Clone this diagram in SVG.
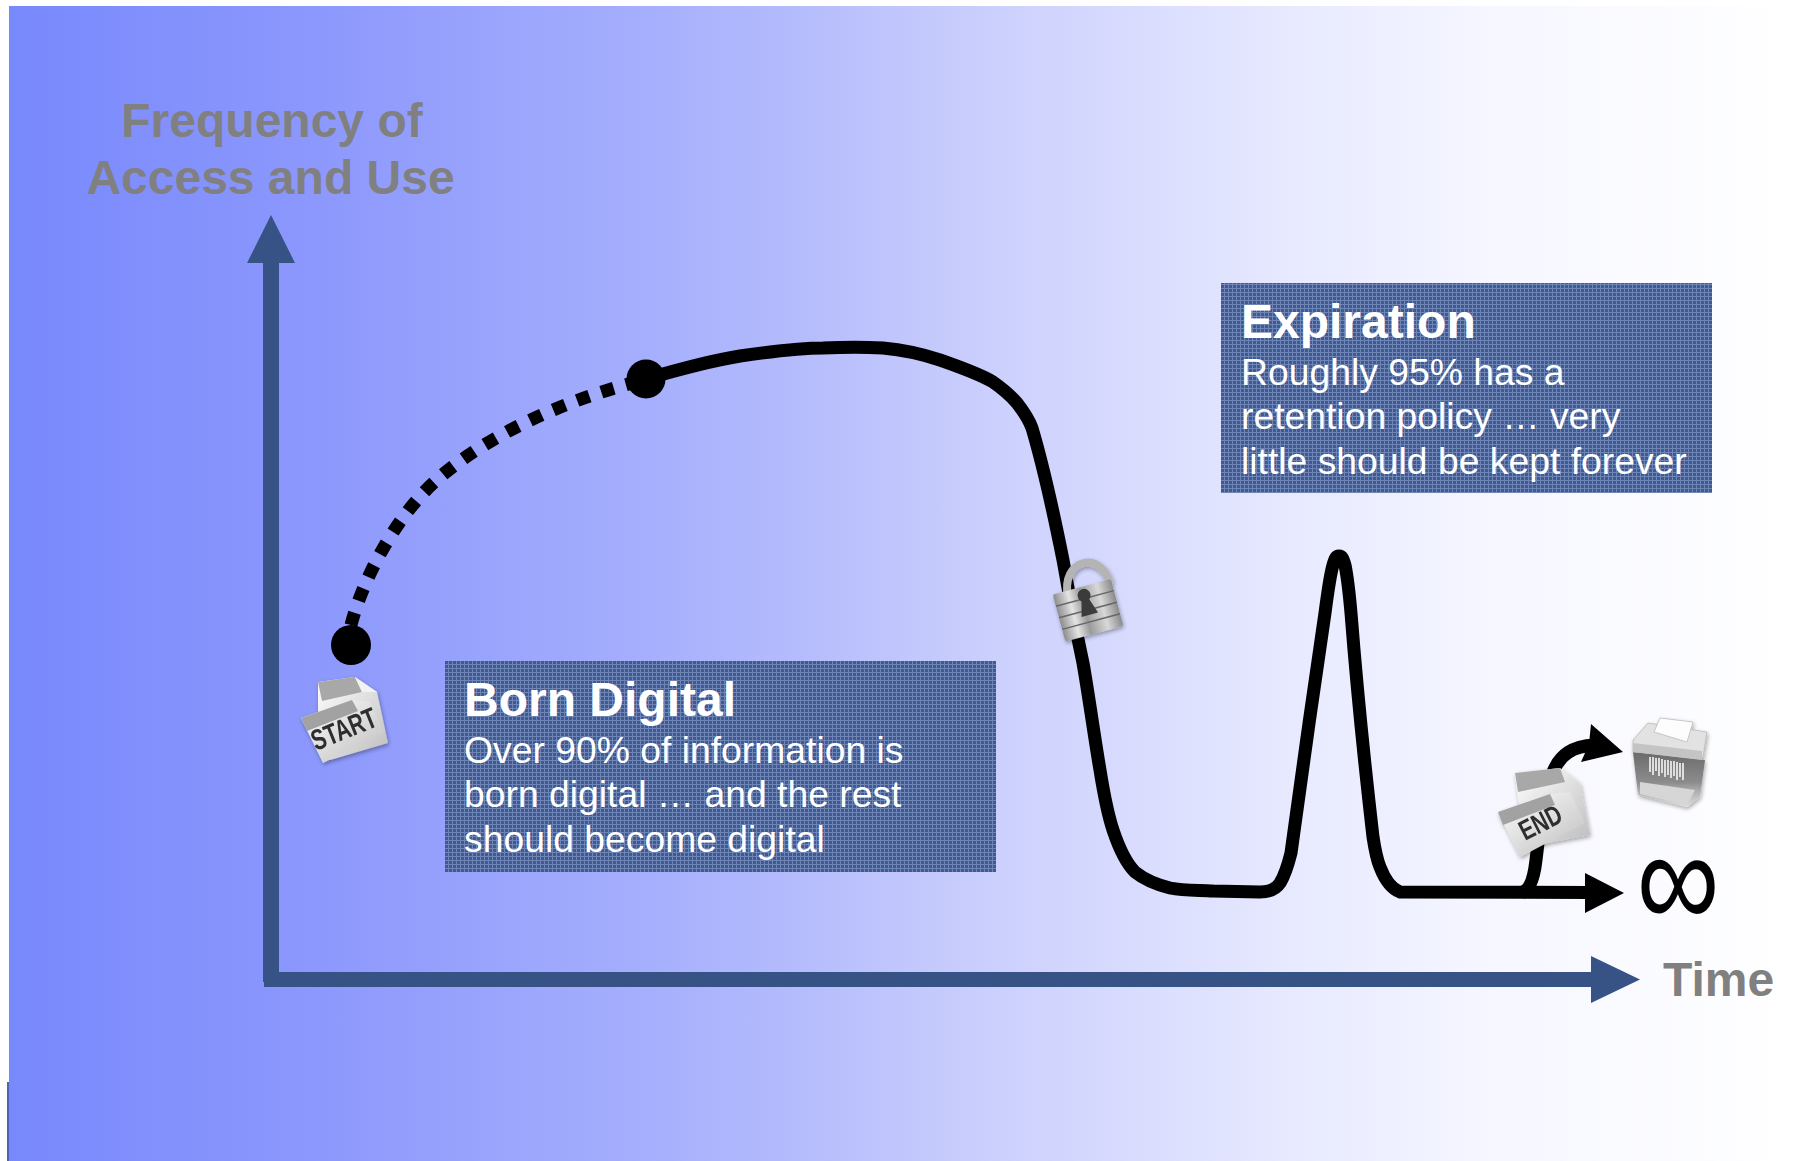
<svg xmlns="http://www.w3.org/2000/svg" width="1813" height="1161" viewBox="0 0 1813 1161">
<style>
text{font-family:"Liberation Sans",Arial,sans-serif}
.axis{fill:#808080;font-weight:700;font-size:48px}
.h{fill:#fff;font-weight:700;font-size:48px}
.b{fill:#fff;font-size:37.300px}
.box{fill:url(#mesh)}
.curve{fill:none;stroke:#000;stroke-width:13}
.ax{fill:#375284}
.tag{fill:#2e2e2e;font-weight:700}
</style>
<defs>
<linearGradient id="bg" x1="9" y1="0" x2="1790" y2="0" gradientUnits="userSpaceOnUse"><stop offset="0" stop-color="#7889fc"/><stop offset=".164" stop-color="#8b97fc"/><stop offset=".36" stop-color="#a6affc"/><stop offset=".444" stop-color="#b5bcfc"/><stop offset=".556" stop-color="#ccd0fd"/><stop offset=".652" stop-color="#dcdffe"/><stop offset=".725" stop-color="#e8eaff"/><stop offset=".837" stop-color="#f6f7ff"/><stop offset="1" stop-color="#fff"/></linearGradient>
<pattern id="mesh" width="4" height="4" patternUnits="userSpaceOnUse"><rect width="4" height="4" fill="#3f5a90"/><rect width="4" height="1" fill="#6f85b5"/><rect width="1" height="4" fill="#6f85b5"/></pattern>
<linearGradient id="silver" x1="0" y1="0" x2="1" y2="0"><stop offset="0" stop-color="#8d8d8d"/><stop offset=".25" stop-color="#e4e4e4"/><stop offset=".45" stop-color="#9a9a9a"/><stop offset=".75" stop-color="#d8d8d8"/><stop offset="1" stop-color="#8a8a8a"/></linearGradient>
<linearGradient id="paper" x1="0" y1="0" x2="1" y2="1"><stop offset="0" stop-color="#fff"/><stop offset="1" stop-color="#bdbdbd"/></linearGradient>
<linearGradient id="bin" x1="0" y1="0" x2="0" y2="1"><stop offset="0" stop-color="#6a6a6a"/><stop offset=".55" stop-color="#8c8c8c"/><stop offset=".75" stop-color="#b5b5b5"/><stop offset="1" stop-color="#dedede"/></linearGradient>
<filter id="soft" x="-20%" y="-20%" width="140%" height="140%"><feGaussianBlur in="SourceGraphic" stdDeviation=".7" result="s"/><feGaussianBlur in="SourceAlpha" stdDeviation="2"/><feOffset dx="1" dy="2"/><feComponentTransfer><feFuncA type="linear" slope=".35"/></feComponentTransfer><feMerge><feMergeNode/><feMergeNode in="s"/></feMerge></filter>
</defs>
<rect width="1813" height="1161" fill="#fff"/>
<rect x="9" y="6" width="1804" height="1155" fill="url(#bg)"/>
<rect x="7" y="1082" width="2" height="79" fill="#4a66b0"/>
<g id="connectors">
<path class="ax" d="M263 982V263H247L271 215L295 263H279V972H1591V956L1640 979.5L1591 1003V987H264V982Z"/>
<path class="curve" stroke-dasharray="13 12.6" d="M351 625C362 582 395 515 440 477C490 434 565 400 640 381"/>
<path class="curve" d="M646 379C680 369 710 361 740 356C775 351 800 348 823 348C845 347 865 347 883 348C905 350 925 355 940 360C960 367 980 374 993 382C1003 389 1011 396 1017 403C1024 412 1029 420 1032 428C1040 455 1052 505 1063 560C1070 600 1076 630 1083 663C1089 697 1094 735 1100 770C1104 795 1108 815 1113 830C1119 848 1126 863 1135 872C1145 880 1158 885 1170 888C1185 891 1200 890 1213 891L1260 892C1270 892 1276 889 1280 883C1285 875 1288 865 1291 853C1298 800 1315 680 1325 613C1328 590 1330 575 1333 565C1335 558 1336 556 1339 556C1342 556 1343 558 1345 565C1347 575 1349 590 1351 613C1357 690 1367 785 1373 837C1375 850 1377 860 1380 867C1385 880 1392 889 1400 892L1590 892.5"/>
<path class="curve" d="M1522 892.5C1530 890 1534 878 1536 860C1540 825 1546 785 1553 772C1560 755 1572 746 1595 745"/>
<path d="M1585 873L1624 893L1585 913Z"/>
<path d="M1591 724L1623 752L1581 762L1589 744Z"/>
</g>
<g id="node-y-label"><text class="axis" x="272" y="137" text-anchor="middle">Frequency of</text><text class="axis" x="270.500" y="194" text-anchor="middle">Access and Use</text></g>
<g id="node-x-label"><text class="axis" x="1663" y="996">Time</text></g>
<g id="node-born-digital"><rect class="box" x="445" y="661" width="551" height="211"/><text class="h" x="464" y="716">Born Digital</text><text class="b" x="464" y="763">Over 90% of information is</text><text class="b" x="464" y="807">born digital … and the rest</text><text class="b" x="464" y="852">should become digital</text></g>
<g id="node-expiration"><rect class="box" x="1221" y="283" width="491" height="210"/><text class="h" x="1241" y="338">Expiration</text><text class="b" x="1241" y="385">Roughly 95% has a</text><text class="b" x="1241" y="429">retention policy … very</text><text class="b" x="1241" y="474">little should be kept forever</text></g>
<g id="node-start-point"><circle cx="351" cy="645" r="20"/></g>
<g id="node-mid-point"><circle cx="646" cy="379" r="19.500"/></g>
<g id="node-start" filter="url(#soft)">
<path d="M318 682L355 677L377 692L388 743L330 760L318 720Z" fill="url(#paper)"/>
<path d="M318 682L355 677L362 692L322 701Z" fill="#a8a8a8"/>
<path d="M355 677L377 692L362 692Z" fill="#f2f2f2"/>
<path d="M301 718L352 700L370 702L384 733L323 763Z" fill="url(#paper)"/>
<path d="M301 718L352 700L358 711L307 731Z" fill="#a2a2a2"/>
<text class="tag" font-size="29" transform="translate(316 751) rotate(-22) scale(.72 1)">START</text>
</g>
<g id="node-lock" filter="url(#soft)">
<path d="M1068 598C1060 558 1102 550 1110 584" fill="none" stroke="#b4b4b4" stroke-width="8"/>
<g transform="rotate(-15 1088 610)">
<rect x="1058" y="586" width="60" height="12.500" rx="2" fill="url(#silver)"/>
<rect x="1058" y="598" width="60" height="12.500" rx="2" fill="url(#silver)"/>
<rect x="1058" y="610" width="60" height="12.500" rx="2" fill="url(#silver)"/>
<rect x="1058" y="622" width="60" height="12.500" rx="2" fill="url(#silver)"/>
<path d="M1058 598H1118M1058 610H1118M1058 622H1118" stroke="#666" stroke-width="1.500"/>
<path d="M1080 615L1084 600A6.500 6.500 0 1 1 1092 600L1097 615Z" fill="#3a3a3a"/>
</g>
</g>
<g id="node-shredder" filter="url(#soft)">
<path d="M1633 752L1705 760L1700 797L1687 807L1638 795Z" fill="url(#bin)"/>
<path d="M1640 782L1695 790L1687 805L1640 794Z" fill="#d6d6d6"/>
<path d="M1650 757V772M1653 757V775M1656 758V771M1659 758V776M1662 759V773M1665 760V777M1668 760V775M1671 761V778M1674 761V776M1677 762V780M1680 763V777M1683 763V780" stroke="#e8e8e8" stroke-width="1.800"/>
<path d="M1633 740L1648 723L1707 732L1703 757L1633 752Z" fill="#e2e2e2" stroke="#aaa" stroke-width=".6"/>
<path d="M1633 743L1702 751V760L1633 752Z" fill="#c4c4c4"/>
<path d="M1660 718L1693 722L1687 742L1654 732Z" fill="#fdfdfd" stroke="#bbb" stroke-width=".8"/>
</g>
<g id="node-end" filter="url(#soft)">
<path d="M1515 773L1560 768L1580 783L1590 835L1537 845L1518 800Z" fill="url(#paper)"/>
<path d="M1515 773L1560 768L1565 782L1518 792Z" fill="#a8a8a8"/>
<path d="M1498 812L1550 794L1570 792L1585 823L1520 857Z" fill="url(#paper)"/>
<path d="M1498 812L1550 794L1555 805L1503 825Z" fill="#a2a2a2"/>
<text class="tag" font-size="28" transform="translate(1525 841) rotate(-27) scale(.75 1)">END</text>
</g>
<g id="node-infinity"><text transform="translate(1678 928) scale(1.060 1.290)" text-anchor="middle" font-size="110" font-weight="400" fill="#000">∞</text></g>
</svg>
